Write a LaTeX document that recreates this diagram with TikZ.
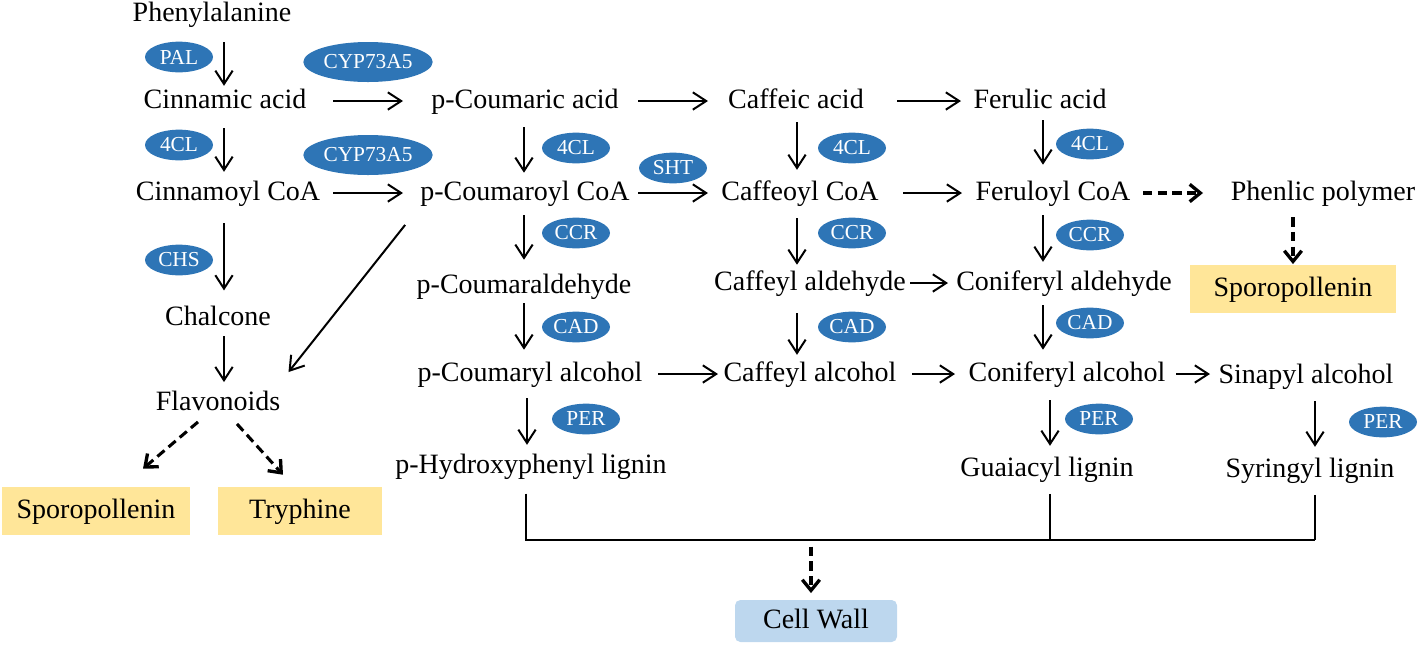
\documentclass[tikz,border=0pt]{standalone}
\usepackage{fontspec}
\setmainfont{Liberation Serif}
\usetikzlibrary{shapes.geometric,arrows.meta,calc}
\definecolor{enzblue}{HTML}{2E75B6}
\definecolor{boxyellow}{HTML}{FFE699}
\definecolor{cellblue}{HTML}{BDD7EE}
\begin{document}
\begin{tikzpicture}[x=0.75pt,y=-0.75pt,
  txt/.style={font=\fontsize{21}{25}\selectfont, inner sep=0pt, text height=15pt, text depth=4pt},
  enz/.style={ellipse, fill=enzblue, text=white, font=\fontsize{16}{19}\selectfont, inner sep=0pt, minimum width=51pt, minimum height=23pt},
  bigenz/.style={enz, minimum width=97pt, minimum height=30pt},
  prod/.style={txt, fill=boxyellow, minimum height=36pt},
  cellbox/.style={txt, fill=cellblue, rounded corners=4pt, minimum width=121.5pt, minimum height=31.5pt},
  arr/.style={line width=1.5pt, -{Straight Barb[length=10pt,width=13pt]}},
  sh/.style 2 args={shorten <=#1pt, shorten >=#2pt},
  darr/.style={line width=2.3pt, dash pattern=on 7pt off 4pt, -{Straight Barb[length=8pt,width=13pt,line width=2.5pt]}},
  plain/.style={line width=1.5pt}
]
\useasboundingbox (0,0) rectangle (1418,644);
% --- text nodes ---
\node[txt] (phe) at (212,14) {Phenylalanine};
\node[txt] (cin) at (225,101) {Cinnamic acid};
\node[txt] (pca) at (525,101) {p-Coumaric acid};
\node[txt] (caa) at (796,101) {Caffeic acid};
\node[txt] (fea) at (1040,101) {Ferulic acid};
\node[txt] (cico) at (228,193) {Cinnamoyl CoA};
\node[txt] (pcoa) at (525,193) {p-Coumaroyl CoA};
\node[txt] (cfco) at (800,193) {Caffeoyl CoA};
\node[txt] (frco) at (1053,193) {Feruloyl CoA};
\node[txt] (php) at (1323,193) {Phenlic polymer};
\node[txt] (chal) at (218,318) {Chalcone};
\node[txt] (pcald) at (524,286) {p-Coumaraldehyde};
\node[txt] (cfald) at (810,283) {Caffeyl aldehyde};
\node[txt] (coald) at (1064,283) {Coniferyl aldehyde};
\node[txt] (flav) at (218,403) {Flavonoids};
\node[txt] (pcalc) at (530,374) {p-Coumaryl alcohol};
\node[txt] (cfalc) at (810,374) {Caffeyl alcohol};
\node[txt] (coalc) at (1067,374) {Coniferyl alcohol};
\node[txt] (sialc) at (1306,376) {Sinapyl alcohol};
\node[txt] (hlig) at (531,466) {p-Hydroxyphenyl lignin};
\node[txt] (glig) at (1047,469) {Guaiacyl lignin};
\node[txt] (slig) at (1310,470) {Syringyl lignin};
% --- boxes ---
\node[prod, minimum width=154pt] (spR) at (1293,289) {Sporopollenin};
\node[prod, minimum width=141pt] (spL) at (96,511) {Sporopollenin};
\node[prod, minimum width=123pt] (try) at (300,511) {Tryphine};
\node[cellbox] (cw) at (816,621) {Cell Wall};
% --- enzymes ---
\node[enz] (pal) at (179,57) {PAL};
\node[bigenz] (cyp1) at (368,62) {CYP73A5};
\node[enz] (cl1) at (179,145) {4CL};
\node[bigenz] (cyp2) at (368,155) {CYP73A5};
\node[enz] (cl2) at (576,148) {4CL};
\node[enz] (sht) at (673,168) {SHT};
\node[enz] (cl3) at (852,148) {4CL};
\node[enz] (cl4) at (1090,144) {4CL};
\node[enz] (chs) at (179,260) {CHS};
\node[enz] (ccr1) at (576,233) {CCR};
\node[enz] (ccr2) at (852,233) {CCR};
\node[enz] (ccr3) at (1090,235) {CCR};
\node[enz] (cad1) at (576,327) {CAD};
\node[enz] (cad2) at (852,327) {CAD};
\node[enz] (cad3) at (1090,323) {CAD};
\node[enz] (per1) at (586,419) {PER};
\node[enz] (per2) at (1099,419) {PER};
\node[enz] (per3) at (1383,422) {PER};
% --- junction coordinates ---
\coordinate (jL) at (526,540);
\coordinate (jG) at (1050,540);
\coordinate (jR) at (1315,540);
\coordinate (jM) at (811,540);
% --- horizontal arrows ---
\draw[arr] (cin.east -| 333,0) -- (pca.west -| 403,0);
\draw[arr] (pca.east -| 638,0) -- (caa.west -| 708,0);
\draw[arr] (caa.east -| 897,0) -- (fea.west -| 961,0);
\draw[arr] (cico.east -| 333,0) -- (pcoa.west -| 403,0);
\draw[arr] (pcoa.east -| 638,0) -- (cfco.west -| 708,0);
\draw[arr] (cfco.east -| 903,0) -- (frco.west -| 962,0);
\draw[darr] (frco.east -| 1143,0) -- (php.west -| 1203,0);
\draw[arr] (cfald.east -| 910,0) -- (coald.west -| 948,0);
\draw[arr] (pcalc.east -| 658,0) -- (cfalc.west -| 718,0);
\draw[arr] (cfalc.east -| 912,0) -- (coalc.west -| 955,0);
\draw[arr] (coalc.east -| 1176,0) -- (coalc.east -| 1210,0);
% --- vertical arrows ---
\draw[arr, sh={11.5}{1.7}] (phe.south -| 224,0) -- (cin.north -| 224,0);
\draw[arr, sh={10.7}{6.2}] (cin.south -| 224,0) -- (cico.north -| 224,0);
\draw[arr, sh={13}{11}] (cico.south -| 224,0) -- (chal.north -| 224,0);
\draw[arr, sh={4}{6}] (chal.south -| 224,0) -- (flav.north -| 224,0);
\draw[arr, sh={10}{5.5}] (pca.south -| 524,0) -- (pcoa.north -| 524,0);
\draw[arr, sh={6.2}{7.7}] (caa.south -| 797,0) -- (cfco.north -| 797,0);
\draw[arr, sh={4.7}{11.5}] (fea.south -| 1043,0) -- (frco.north -| 1043,0);
\draw[arr, sh={7}{10}] (pcoa.south -| 524,0) -- (pcald.north -| 524,0);
\draw[arr, sh={9.2}{4}] (cfco.south -| 797,0) -- (cfald.north -| 797,0);
\draw[arr, sh={7}{6.2}] (frco.south -| 1043,0) -- (coald.north -| 1043,0);
\draw[arr, sh={3.2}{8.5}] (pcald.south -| 524,0) -- (pcalc.north -| 524,0);
\draw[arr, sh={13}{4.7}] (cfald.south -| 797,0) -- (cfalc.north -| 797,0);
\draw[arr, sh={7}{8.5}] (coald.south -| 1043,0) -- (coalc.north -| 1043,0);
\draw[arr, sh={8.5}{6.2}] (pcalc.south -| 527,0) -- (hlig.north -| 527,0);
\draw[arr, sh={10}{7.7}] (coalc.south -| 1050,0) -- (glig.north -| 1050,0);
\draw[arr, sh={9.2}{7.7}] (sialc.south -| 1315,0) -- (slig.north -| 1315,0);
\draw[darr, sh={8.5}{0.5}] (php.south -| 1293,0) -- (spR.north);
% --- diagonal arrows ---
\draw[arr] ($(pcoa.south west)+(-15,19)$) -- ($(flav.north east)+(8,-18)$);
\draw[darr] ($(flav.south)+(-20,6)$) -- ($(spL.north)+(47,-18)$);
\draw[darr] ($(flav.south)+(19,8)$) -- ($(try.north)+(-17,-12)$);
% --- lignin to cell wall ---
\draw[plain, shorten <=11pt] (hlig.south -| jL) -- (jL) -- (jR);
\draw[plain, shorten <=9pt] (glig.south -| jG) -- (jG);
\draw[plain, shorten <=9pt] (slig.south -| jR) -- (jR);
\draw[darr, sh={5}{5}] (jM) -- (cw.north -| jM);
\end{tikzpicture}
\end{document}
